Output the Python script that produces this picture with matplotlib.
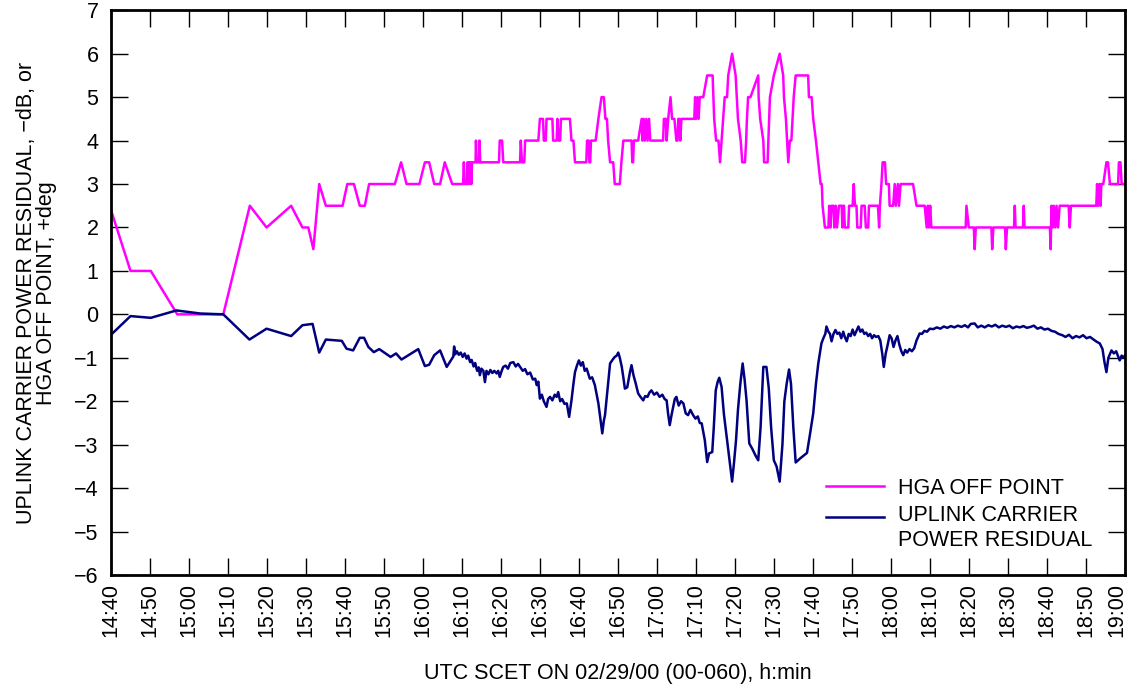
import matplotlib
matplotlib.use("Agg")
import matplotlib.pyplot as plt
import matplotlib.transforms as mtransforms

plt.rcParams['font.family'] = ['Liberation Sans', 'DejaVu Sans']

# minutes after 14:40 UTC
tick_labels = ["14:40", "14:50", "15:00", "15:10", "15:20", "15:30", "15:40", "15:50",
               "16:00", "16:10", "16:20", "16:30", "16:40", "16:50", "17:00", "17:10",
               "17:20", "17:30", "17:40", "17:50", "18:00", "18:10", "18:20", "18:30",
               "18:40", "18:50", "19:00"]
tick_min = [10 * i for i in range(len(tick_labels))]

# HGA off point, deg
hga_t = [0, 5.0, 10.2, 17.0, 28.8, 35.6, 39.9, 46.2, 49.1, 50.6, 51.9, 53.4, 55.1, 59.4,
         60.6, 62.3, 63.8, 65.1, 66.2, 72.8, 74.4, 75.8, 79.1, 80.5, 81.6, 82.9, 84.4,
         85.6, 87.5, 90.3, 90.5, 90.7, 91.3, 91.4, 91.6, 91.8, 92.0, 92.2, 92.4, 92.6,
         93.5, 93.6, 93.8, 94.4, 94.5, 94.7, 99.5, 99.7, 100.3, 100.6, 104.9, 105.1,
         105.4, 106.0, 106.2, 109.6, 110.0, 110.8, 111.0, 111.5, 111.7, 113.2, 113.4,
         114.3, 114.5, 114.8, 115.2, 115.4, 117.7, 118.1, 118.6, 119.0, 121.9, 122.1,
         122.5, 122.7, 122.9, 123.1, 124.3, 125.0, 125.8, 126.4, 126.8, 127.2, 127.5,
         128.0, 128.8, 129.2, 130.5, 130.9, 131.4, 133.5, 133.7, 133.9, 134.1, 135.2,
         136.1, 136.3, 136.6, 136.9, 137.3, 137.6, 138.0, 138.3, 141.6, 141.8, 142.3,
         142.5, 142.9, 143.5, 143.9, 144.5, 145.0, 145.3, 145.5, 145.8, 146.0, 146.3,
         149.6, 149.8, 150.1, 150.4, 150.7, 151.0, 151.9, 152.9, 154.3, 154.5, 154.7,
         155.2, 155.8, 156.2, 156.6, 157.0, 157.4, 158.0, 158.3, 159.3, 160.2, 160.5,
         160.8, 161.5, 161.9, 162.6, 162.9, 163.1, 163.4, 164.0, 166.0, 166.1, 166.5,
         167.3, 167.5, 168.4, 168.6, 168.8, 169.0, 170.0, 171.5, 172.4, 172.6, 173.1,
         173.4, 173.7, 174.1, 174.5, 174.8, 175.1, 175.6, 178.8, 179.0, 179.7, 180.1,
         180.8, 181.4, 182.0, 182.3, 182.5, 183.1, 184.0, 184.2, 184.5, 184.8, 185.3,
         185.5, 185.9, 186.2, 186.7, 187.4, 187.6, 187.8, 188.0, 188.2, 189.1, 189.3,
         190.2, 190.5, 190.8, 191.2, 191.4, 192.3, 192.5, 193.3, 193.6, 194.2, 194.4,
         196.7, 197.0, 197.2, 197.6, 197.9, 198.5, 198.8, 199.5, 199.7, 200.6, 201.0,
         201.3, 201.8, 202.1, 202.5, 205.7, 206.6, 208.7, 209.2, 209.5, 209.8, 210.1,
         210.4, 210.8, 219.2, 219.4, 220.0, 221.3, 221.5, 221.8, 225.8, 226.0, 226.3,
         229.3, 229.5, 229.8, 231.6, 231.8, 232.0, 233.9, 234.1, 234.3, 240.8, 241.0,
         241.2, 241.5, 241.8, 242.2, 242.5, 242.9, 243.3, 245.6, 245.9, 246.2, 252.7,
         252.9, 253.2, 253.5, 253.8, 254.0, 254.5, 255.3, 255.7, 256.2, 258.3, 258.5,
         258.9, 259.2, 260.0]
hga_v = [2.4, 1.0, 1.0, 0.0, 0.0, 2.5, 2.0, 2.5, 2.0, 2.0, 1.5, 3.0, 2.5, 2.5,
         3.0, 3.0, 2.5, 2.5, 3.0, 3.0, 3.5, 3.0, 3.0, 3.5, 3.5, 3.0, 3.0,
         3.5, 3.0, 3.0, 3.5, 3.0, 3.0, 3.5, 3.0, 3.5, 3.0, 3.5, 3.0, 3.5,
         3.5, 4.0, 3.5, 3.5, 4.0, 3.5, 3.5, 4.0, 4.0, 3.5, 3.5, 4.0,
         3.5, 3.5, 4.0, 4.0, 4.5, 4.5, 4.0, 4.0, 4.5, 4.5, 4.0,
         4.0, 4.5, 4.0, 4.0, 4.5, 4.5, 4.0, 4.0, 3.5, 3.5, 4.0,
         4.0, 3.5, 3.5, 4.0, 4.0, 4.5, 5.0, 5.0, 4.5, 4.5, 4.0,
         3.5, 3.5, 3.0, 3.0, 3.5, 4.0, 4.0, 3.5, 3.5, 4.0, 4.0,
         4.5, 4.0, 4.5, 4.0, 4.5, 4.0, 4.5, 4.0, 4.0, 4.5, 4.5,
         4.0, 4.5, 5.0, 4.5, 4.5, 4.0, 4.0, 4.5, 4.5, 4.0, 4.5,
         4.5, 5.0, 4.5, 5.0, 4.5, 5.0, 5.0, 5.5, 5.5, 5.0, 4.5,
         4.0, 4.0, 3.5, 4.0, 4.5, 5.0, 5.0, 5.5, 6.0, 5.5, 5.0,
         4.5, 4.0, 3.5, 3.5, 4.0, 4.5, 5.0, 5.0, 5.5, 5.0, 4.5,
         4.0, 3.5, 3.5, 4.0, 4.5, 5.0, 5.5, 6.0, 5.5, 5.0, 4.5,
         4.0, 3.5, 4.0, 4.0, 4.5, 5.0, 5.5, 5.5, 5.0, 5.0, 4.5,
         4.0, 3.5, 3.0, 3.0, 2.5, 2.0, 2.0, 2.5, 2.0, 2.5, 2.5,
         2.0, 2.5, 2.0, 2.5, 2.5, 2.0, 2.5, 2.5, 2.0, 2.0, 2.5,
         2.5, 3.0, 2.5, 2.5, 2.0, 2.0, 2.5, 2.5, 2.0, 2.0, 2.5,
         2.5, 2.0, 2.5, 3.0, 3.5, 3.5, 3.0, 3.0, 2.5, 2.5, 3.0,
         2.5, 3.0, 2.5, 3.0, 3.0, 2.5, 2.5, 2.0, 2.5, 2.0, 2.5,
         2.0, 2.0, 2.0, 2.5, 2.0, 2.0, 1.5, 2.0, 2.0, 1.5, 2.0,
         2.0, 1.5, 2.0, 2.0, 2.5, 2.0, 2.0, 2.5, 2.0, 2.0, 1.5,
         2.5, 2.0, 2.5, 2.0, 2.5, 2.0, 2.5, 2.5, 2.0, 2.5, 2.5,
         3.0, 2.5, 3.0, 2.5, 3.0, 3.0, 3.5, 3.5, 3.0, 3.0, 3.5,
         3.5, 3.0, 3.0]

# uplink carrier power residual, dB
res_t = [0, 5.0, 10.2, 16.8, 22.8, 28.8, 35.5, 39.9, 46.2, 49.1, 51.7, 53.4, 55.1, 59.2,
         60.4, 62.1, 63.8, 64.9, 66.0, 67.4, 68.8, 71.7, 73.1, 74.5, 78.8, 80.5, 81.6,
         82.9, 84.4, 86.1, 87.8, 88.0, 88.3, 88.7, 89.2, 89.7, 90.2, 90.7, 91.2, 91.6,
         92.1, 92.5, 93.0, 93.4, 93.9, 94.3, 94.6, 95.0, 95.5, 95.9, 96.3, 96.8, 97.3,
         97.8, 98.3, 98.9, 99.3, 99.7, 100.2, 100.6, 101.2, 101.8, 102.4, 103.2, 103.8,
         104.4, 105.0, 105.6, 106.2, 106.8, 107.5, 108.2, 108.8, 109.2, 109.6, 110.0,
         110.5, 111.0, 111.7, 112.1, 112.6, 113.2, 113.8, 114.3, 114.7, 115.2, 115.7,
         116.3, 116.9, 117.5, 118.1, 118.6, 119.0, 119.5, 120.0, 120.5, 121.0, 121.5,
         122.0, 122.8, 123.4, 124.1, 125.0, 125.5, 126.0, 126.4, 126.7, 127.5, 128.0,
         128.6, 129.2, 129.7, 130.1, 130.5, 131.0, 131.4, 131.8, 132.4, 133.1, 133.5,
         134.0, 134.6, 135.2, 135.8, 136.5, 137.0, 137.6, 138.1, 138.6, 139.3, 140.0,
         140.7, 141.4, 142.0, 142.5, 142.9, 143.3, 143.8, 144.2, 144.6, 145.0, 145.6,
         146.2, 146.8, 147.4, 148.0, 148.6, 149.3, 149.9, 150.5, 151.0, 151.5, 152.3,
         152.9, 153.4, 154.2, 154.6, 155.1, 155.6, 156.0, 156.6, 157.2, 158.1, 158.7,
         159.3, 159.8, 160.3, 160.8, 161.4, 162.0, 162.5, 163.0, 163.7, 164.5, 165.3,
         166.0, 166.6, 167.3, 168.1, 168.7, 169.3, 170.0, 170.7, 171.5, 172.2, 172.7,
         173.3, 173.9, 174.4, 175.0, 175.6, 176.7, 178.5, 179.2, 180.1, 180.8, 181.4,
         181.8, 182.2, 182.7, 183.2, 183.5, 184.0, 184.4, 184.8, 185.3, 185.8, 186.3,
         186.8, 187.3, 187.8, 188.2, 188.7, 189.2, 189.7, 190.2, 190.7, 191.2, 191.7,
         192.2, 192.7, 193.2, 193.7, 194.2, 194.7, 195.2, 195.7, 196.2, 196.8, 197.3,
         197.8, 198.2, 198.7, 199.2, 199.7, 200.2, 200.7, 201.2, 201.7, 202.2, 202.7,
         203.2, 203.7, 204.2, 204.8, 205.4, 206.0, 206.6, 207.4, 208.0, 208.6, 209.3,
         210.0, 210.9, 211.8, 212.7, 213.6, 214.5, 215.4, 216.3, 217.2, 218.1, 219.0,
         219.8, 220.5, 221.5, 222.3, 223.2, 224.1, 225.0, 225.9, 226.8, 227.7, 228.6,
         229.5, 230.4, 231.3, 232.2, 233.1, 234.0, 234.9, 235.8, 236.7, 237.6, 238.5,
         239.4, 240.3, 241.2, 242.1, 243.0, 244.0, 244.8, 245.7, 246.6, 247.5, 248.4,
         249.3, 250.2, 251.1, 252.0, 252.8, 253.6, 254.3, 254.8, 255.3, 255.8, 256.6,
         257.2, 257.8, 258.7, 259.2, 259.7, 260.0]
res_v = [-0.47, -0.04, -0.08, 0.09, 0.02, 0.0, -0.58, -0.33, -0.50, -0.25, -0.22, -0.88, -0.58, -0.61,
         -0.79, -0.83, -0.54, -0.54, -0.75, -0.87, -0.80, -0.98, -0.90, -1.04, -0.80, -1.19, -1.16,
         -0.94, -0.83, -1.21, -0.97, -0.74, -0.92, -0.85, -0.93, -0.88, -0.98, -0.90, -1.02, -0.95,
         -1.10, -1.05, -1.20, -1.12, -1.30, -1.22, -1.40, -1.25, -1.30, -1.56, -1.30, -1.38, -1.28,
         -1.35, -1.30, -1.36, -1.30, -1.44, -1.30, -1.21, -1.18, -1.25, -1.12, -1.10, -1.20,
         -1.14, -1.22, -1.30, -1.26, -1.38, -1.34, -1.50, -1.48, -1.63, -1.55, -1.94,
         -1.85, -2.00, -2.13, -1.95, -1.90, -1.98, -1.85, -1.90, -1.79, -2.00, -1.95,
         -2.06, -2.05, -2.36, -1.98, -1.60, -1.33, -1.18, -1.06, -1.18, -1.10, -1.30,
         -1.25, -1.48, -1.45, -1.63, -2.05, -2.40, -2.74, -2.45, -2.32, -1.59, -1.13,
         -1.05, -0.98, -0.95, -0.88, -1.00, -1.21, -1.45, -1.71, -1.68, -1.33, -1.17,
         -1.40, -1.60, -1.82, -1.90, -1.98, -1.88, -1.90, -1.80, -1.75, -1.85, -1.80,
         -1.90, -1.85, -1.95, -1.98, -2.30, -2.55, -2.30, -2.13, -1.95, -1.90, -2.10,
         -2.00, -2.05, -2.28, -2.32, -2.20, -2.32, -2.40, -2.35, -2.50, -2.51, -2.90,
         -3.40, -3.20, -3.17, -2.60, -1.75, -1.55, -1.46, -1.67, -2.30, -2.97, -3.40,
         -3.85, -3.40, -2.90, -2.20, -1.60, -1.13, -1.50, -1.98, -2.97, -3.10, -3.25,
         -3.36, -2.60, -1.21, -1.21, -1.70, -2.60, -3.36, -3.50, -3.85, -3.00, -2.00,
         -1.59, -1.27, -1.60, -2.60, -3.41, -3.32, -3.19, -2.80, -2.28, -1.60, -1.13,
         -0.90, -0.67, -0.55, -0.45, -0.28, -0.40, -0.45, -0.62, -0.45, -0.36, -0.45,
         -0.42, -0.55, -0.40, -0.52, -0.62, -0.45, -0.50, -0.35, -0.48, -0.38, -0.28,
         -0.40, -0.35, -0.45, -0.42, -0.50, -0.45, -0.55, -0.48, -0.52, -0.50, -0.60,
         -0.90, -1.21, -0.90, -0.70, -0.48, -0.55, -0.75, -0.60, -0.50, -0.70, -0.85,
         -0.94, -0.82, -0.88, -0.80, -0.85, -0.78, -0.60, -0.44, -0.45, -0.38, -0.40,
         -0.33, -0.34, -0.30, -0.33, -0.28, -0.31, -0.27, -0.30, -0.26, -0.29, -0.25,
         -0.30, -0.22, -0.21, -0.30, -0.26, -0.30, -0.25, -0.28, -0.24, -0.30, -0.26,
         -0.29, -0.26, -0.32, -0.28, -0.30, -0.27, -0.31, -0.29, -0.26, -0.33, -0.30,
         -0.35, -0.33, -0.38, -0.40, -0.45, -0.48, -0.52, -0.47, -0.55, -0.50, -0.53,
         -0.48, -0.55, -0.52, -0.58, -0.63, -0.67, -0.80, -1.10, -1.33, -1.00, -0.83,
         -0.90, -0.85, -1.06, -0.95, -1.00, -0.95]

fs = 15.5

fig = plt.figure(figsize=(11.27, 6.85), dpi=100)
ax = fig.add_axes([0.0985, 0.1606, 0.8995, 0.8244])

ax.plot(hga_t, hga_v, color='#ff00ff', lw=1.8, label='HGA OFF POINT')
ax.plot(res_t, res_v, color='#000080', lw=1.8, label='UPLINK CARRIER\nPOWER RESIDUAL')

ax.set_xlim(0, 260)
ax.set_ylim(-6, 7)
ax.set_xticks(tick_min)
ax.set_xticklabels(tick_labels, rotation=90)
ax.set_yticks(range(-6, 8))
ax.set_yticklabels([str(v).replace('-', '\u2212') for v in range(-6, 8)])
ax.tick_params(direction='in', length=12, width=1, top=True, right=True,
               labelsize=fs)
ax.tick_params(axis='x', pad=6)
ax.tick_params(axis='y', pad=9)
for s in ax.spines.values():
    s.set_linewidth(2)

# keep the last time label inside the figure
last = ax.get_xticklabels()[-1]
last.set_transform(last.get_transform() +
                   mtransforms.ScaledTranslation(-6 / 72, 0, fig.dpi_scale_trans))

ax.set_xlabel('UTC SCET ON 02/29/00 (00-060), h:min', fontsize=fs)
ax.xaxis.set_label_coords(0.5, -0.155)
ax.set_ylabel('UPLINK CARRIER POWER RESIDUAL, \u2212dB, or\nHGA OFF POINT, +deg',
              fontsize=fs, linespacing=0.95)
ax.yaxis.set_label_coords(-0.053, 0.5)

leg = ax.legend(loc='upper left', bbox_to_anchor=(0.705, 0.172), frameon=False,
                fontsize=fs, handlelength=2.7, handletextpad=0.65, borderpad=0,
                borderaxespad=0, labelspacing=0.3)
# put the second handle level with the first text line
ln = leg.get_lines()[1]
ln.set_ydata([y + 8 for y in ln.get_ydata()])

fig.savefig('out.png', dpi=100)
